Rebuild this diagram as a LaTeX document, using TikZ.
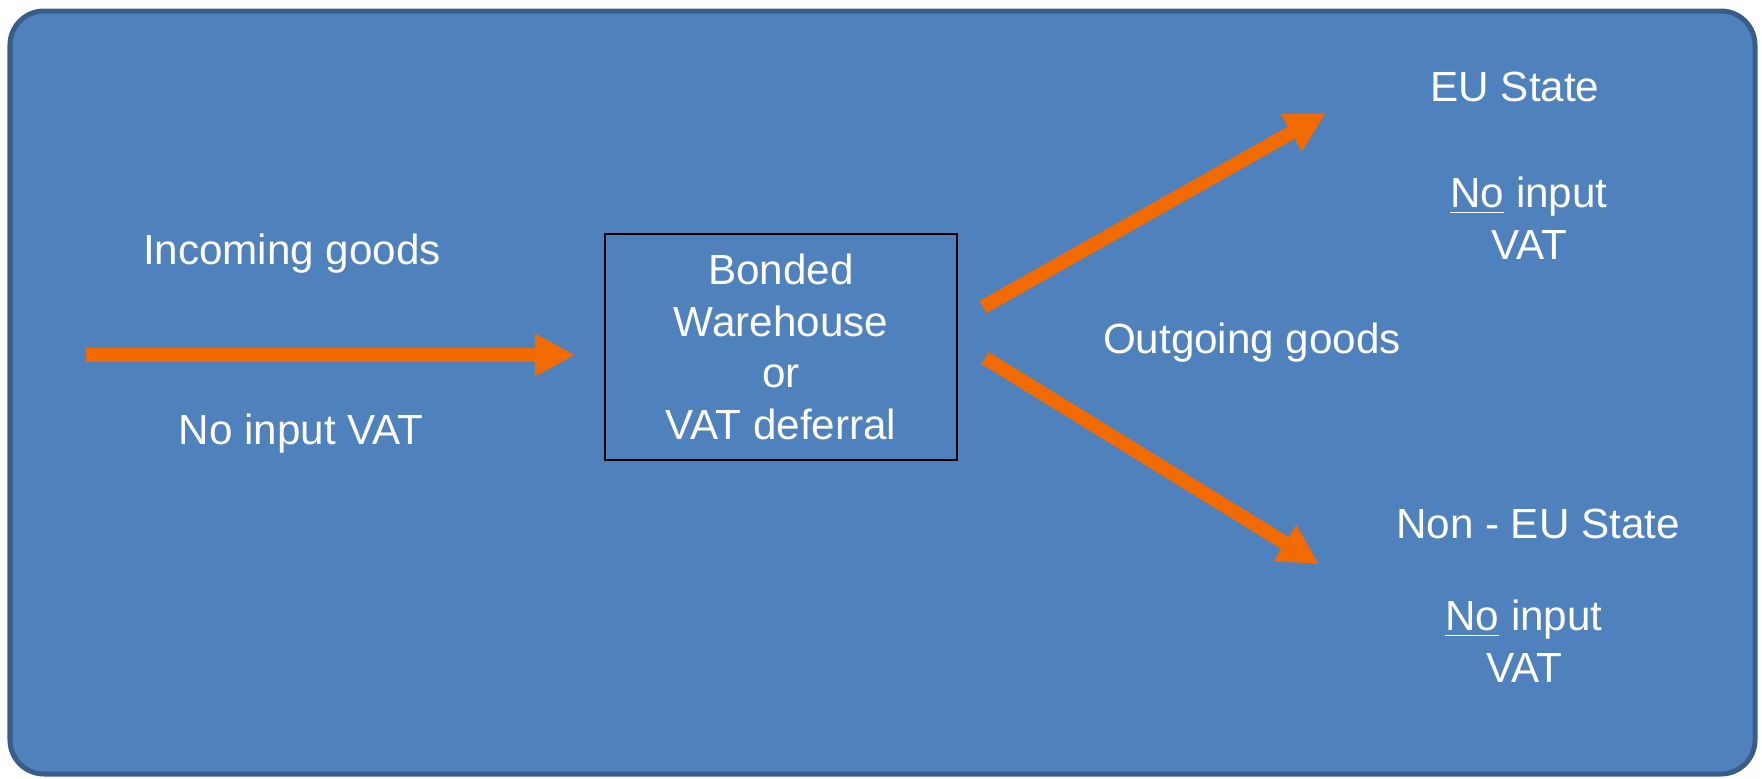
\documentclass[tikz,border=0pt]{standalone}
\usepackage{fontspec}
\setmainfont{Liberation Sans}
\usetikzlibrary{arrows.meta}
\definecolor{panelblue}{RGB}{79,129,189}
\definecolor{paneledge}{RGB}{56,93,138}
\definecolor{flowor}{RGB}{241,107,0}
\tikzset{
  lbl/.style={text=white,align=center,font=\fontsize{12}{14.7}\selectfont},
  flow/.style={draw=flowor,line width=0.14cm,-{Triangle[length=0.4cm,width=0.4cm]}},
}
\begin{document}
\begin{tikzpicture}[x=0.01cm,y=-0.01cm]
                    \useasboundingbox (0,0) rectangle (1762,778);
                    \draw[fill=panelblue,draw=paneledge,line width=0.05cm,rounded corners=0.34cm] (10,11) rectangle (1755,774);

                    \node[lbl] (incoming) at (292,254) {Incoming goods};
                    \node[lbl] (novat) at (301,434) {No input VAT};
                    \node[lbl,draw=black,line width=0.7pt,minimum width=3.52cm,minimum height=2.26cm] (bonded) at (781,347) {Bonded\\Warehouse\\or\\VAT deferral};
                    \node[lbl] (outgoing) at (1252,343) {Outgoing goods};

                    \node[lbl] (eu) at (1515,87) {EU State};
                    \node[lbl] (euvat) at (1529,218) {\underline{No} input\\VAT};
                    \node[lbl] (noneu) at (1538,524) {Non - EU State};
                    \node[lbl] (noneuvat) at (1524,641) {\underline{No} input\\VAT};

                    \coordinate (inA) at (86,355);
                    \coordinate (inB) at (575,355);
                    \coordinate (upA) at (983,307);
                    \coordinate (upB) at (1326,113);
                    \coordinate (dnA) at (985,358);
                    \coordinate (dnB) at (1319,564);
                    \draw[flow] (inA) -- (inB);
                    \draw[flow] (upA) -- (upB);
                    \draw[flow] (dnA) -- (dnB);
                \end{tikzpicture}
\end{document}
